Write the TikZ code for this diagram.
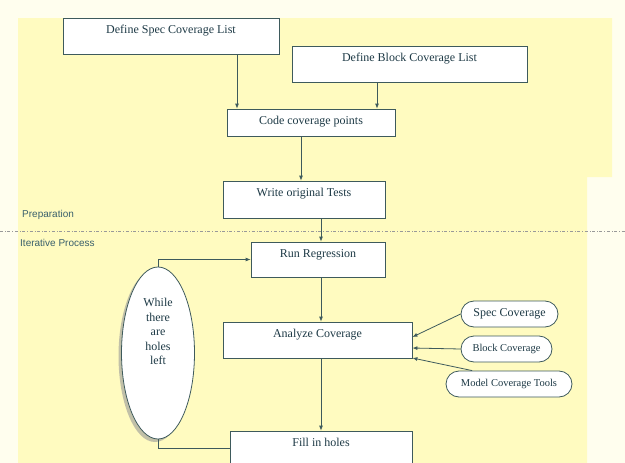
\documentclass[tikz,border=0pt]{standalone}
\usepackage{fontspec}
\setmainfont{Liberation Serif}
\newfontfamily\labelfont{Liberation Sans}
\usepackage{xcolor}
\usetikzlibrary{arrows.meta,shapes.geometric,shadows}

\definecolor{bgyellow}{RGB}{255,251,192}
\definecolor{bgpale}{RGB}{255,254,238}
\definecolor{linec}{RGB}{62,90,92}
\definecolor{txtc}{RGB}{30,58,70}
\definecolor{labc}{RGB}{58,96,108}

\begin{document}
\begin{tikzpicture}[x=1pt, y=-1pt,
    box/.style={draw=linec, fill=white, line width=0.8pt, text=txtc,
        font=\fontsize{12}{14}\selectfont, inner xsep=2pt, inner ysep=0pt,
        text height=15pt, text depth=#1},
    oval/.style={draw=linec, fill=white, line width=0.8pt, text=txtc,
        rounded corners=13pt, minimum height=26pt, inner sep=0pt},
    arr/.style={draw=linec, line width=0.8pt, -{Latex[length=5pt,width=4pt]}},
    line/.style={draw=linec, line width=0.8pt}]
            \clip (0,0) rectangle (625,463);
            % Background
            \fill[bgpale] (0,0) rectangle (625,463);
            \fill[bgyellow] (18,18) -- (612,18) -- (612,177) -- (587,177) -- (587,463) -- (18,463) -- cycle;
            \draw[draw=black!40, dash dot, line width=0.6pt] (0,231) -- (625,231);
            
            \node[font=\labelfont\fontsize{10}{12}\selectfont, text=labc, anchor=west, inner sep=0pt] (prep) at (22,215) {Preparation};
            \node[font=\labelfont\fontsize{10}{12}\selectfont, text=labc, anchor=west, inner sep=0pt] (iter) at (20,243) {Iterative Process};
            
            % Preparation
            \node[box=21pt, minimum width=216pt] (spec) at (171,36) {Define Spec Coverage List};
            \node[box=21pt, minimum width=235pt] (block) at (409.5,64) {Define Block Coverage List};
            \node[box=12pt, minimum width=168pt] (code) at (311,122.5) {Code coverage points};
            \node[box=22pt, minimum width=162pt] (write) at (304,199.5) {Write original Tests};
            
            % Iterative process
            \node[box=20pt, minimum width=134pt] (run) at (318,259.5) {Run Regression};
            \node[box=21pt, minimum width=189pt] (analyze) at (317.5,340) {Analyze Coverage};
            \node[box=19pt, minimum width=182pt] (fill) at (321,448) {Fill in holes};
            
            \node[ellipse, draw=linec, fill=white, line width=0.8pt, text=txtc, inner sep=0pt,
                minimum width=73pt, minimum height=172pt, align=center,
                font=\fontsize{12}{14.5}\selectfont,
                drop shadow={shadow xshift=-3pt, shadow yshift=-3pt, fill=black!40, opacity=0.6}]
                (loop) at (158,353) {While\\there\\are\\holes\\left\\[28pt]\mbox{}};
            
            \node[oval, minimum width=97pt, font=\fontsize{12}{14}\selectfont] (sc) at (509.5,314) {Spec Coverage};
            \node[oval, minimum width=91pt, font=\fontsize{10.5}{12}\selectfont] (bc) at (506.5,349) {Block Coverage};
            \node[oval, minimum width=126pt, font=\fontsize{10.5}{12}\selectfont] (mc) at (509,384) {Model Coverage Tools};
            
            % Connectors
            \draw[arr] (spec.south -| 237,0) -- (code.north -| 237,0);
            \draw[arr] (block.south -| 377,0) -- (code.north -| 377,0);
            \draw[arr] (code.south -| 301,0) -- (write.north -| 301,0);
            \draw[arr] (write.south -| 321,0) -- (run.north -| 321,0);
            \draw[arr] (run.south -| 321,0) -- (analyze.north -| 321,0);
            \draw[arr] (analyze.south -| 321,0) -- (fill.north -| 321,0);
            
            \draw[arr] (sc.west) -- (analyze.east |- 0,337);
            \draw[arr] (bc.west) -- (analyze.east |- 0,348);
            \draw[arr] (mc.160) -- (analyze.east |- 0,358);
            
            \draw[line] (fill.west) -| (loop.south);
            \draw[arr] (loop.north) |- (run.west);
        \end{tikzpicture}
\end{document}
